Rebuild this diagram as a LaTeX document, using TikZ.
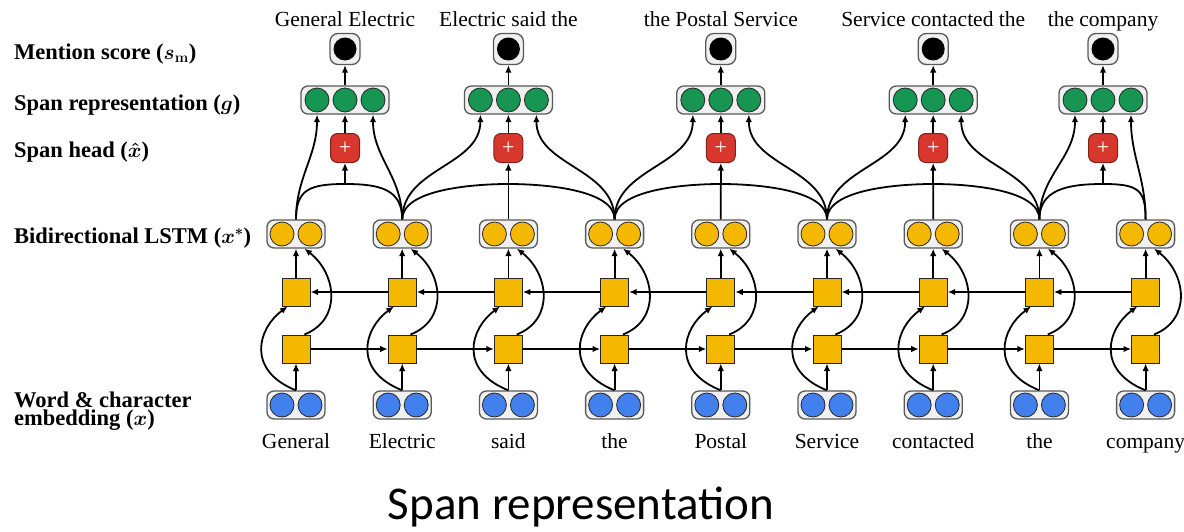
\documentclass[tikz,border=0pt]{standalone}
\usepackage{fontspec}
\setmainfont{Liberation Serif}
\newfontfamily\capfont{Carlito}
\usetikzlibrary{arrows.meta}
\definecolor{cblue}{RGB}{66,128,238}
\definecolor{cyel}{RGB}{245,184,0}
\definecolor{cgreen}{RGB}{22,150,82}
\definecolor{cred}{RGB}{215,55,45}
\begin{document}
\begin{tikzpicture}[x=1pt,y=-1pt,
  box/.style={draw=black!65, fill=gray!12, line width=1.3pt, rounded corners=7pt, minimum height=28pt, inner sep=0pt},
  box2/.style={box, minimum width=58pt},
  box3/.style={box, minimum width=88pt},
  dot/.style={circle, draw=black!85, line width=0.8pt, minimum size=24pt, inner sep=0pt},
  sq/.style={draw=black!85, fill=cyel, line width=1pt, minimum size=28pt, inner sep=0pt},
  headbox/.style={fill=cred, draw=cred!60!black, line width=1pt, rounded corners=7pt, minimum size=29pt, inner sep=0pt, text=white, font=\fontsize{22}{22}\selectfont},
  scorebox/.style={box, minimum width=30pt, minimum height=31pt, rounded corners=8pt},
  arr/.style={-{Latex[length=7.5pt,width=6.5pt]}, line width=1.8pt},
  ln/.style={line width=1.8pt},
  lbl/.style={font=\bfseries\boldmath\fontsize{22.5}{18}\selectfont, anchor=base west, align=left, inner sep=0pt},
  word/.style={font=\fontsize{21.5}{22}\selectfont, anchor=base, inner sep=0pt},
]
\useasboundingbox (0,0) rectangle (1184,531);

% left labels
\node[lbl] (l1) at (14,59) {Mention score ($s_{\mathbf{m}}$)};
\node[lbl] (l2) at (14,110) {Span representation ($g$)};
\node[lbl] (l3) at (14,157) {Span head ($\hat{x}$)};
\node[lbl] (l4) at (14,243) {Bidirectional LSTM ($x^{*}$)};
\node[lbl, anchor=north west] (l5) at (14,392) {Word \& character\\embedding ($x$)};

% token columns
\foreach \i/\w in {1/General,2/Electric,3/said,4/the,5/Postal,6/Service,7/contacted,8/the,9/company}{
  \pgfmathsetmacro\xx{296+106.2*(\i-1)}
  \node[box2] (e\i) at (\xx,405) {};
  \node[dot, fill=cblue] (e\i a) at ({\xx-14},405) {};
  \node[dot, fill=cblue] (e\i b) at ({\xx+14},405) {};
  \node[sq] (f\i) at (\xx,349) {};
  \node[sq] (b\i) at (\xx,292) {};
  \node[box2] (h\i) at (\xx,234) {};
  \node[dot, fill=cyel] (h\i a) at ({\xx-14},234) {};
  \node[dot, fill=cyel] (h\i b) at ({\xx+14},234) {};
  \node[word] (w\i) at (\xx,448) {\w};
  \draw[arr] (e\i.north) -- (f\i.south);
  \draw[arr] (b\i.north) -- (h\i.south);
  \draw[arr] (e\i.north) .. controls +(-50,-20) and +(-30,22) .. (b\i.-120);
  \draw[arr] (f\i.60) .. controls +(38,-15) and +(32,25) .. (h\i.-60);
}
\foreach \i/\j in {1/2,2/3,3/4,4/5,5/6,6/7,7/8,8/9}{
  \draw[arr] (f\i.east) -- (f\j.west);
  \draw[arr] (b\j.west) -- (b\i.east);
}

% spans
\foreach \k/\cx/\txt in {1/345/General Electric,2/508.4/Electric said the,3/720.8/the Postal Service,4/933.2/Service contacted the,5/1103/the company}{
  \node[scorebox] (m\k) at (\cx,49) {};
  \node[circle, fill=black, minimum size=23pt, inner sep=0pt] (m\k c) at (m\k) {};
  \node[box3] (g\k) at (\cx,100) {};
  \node[dot, fill=cgreen] (g\k a) at ({\cx-28},100) {};
  \node[dot, fill=cgreen] (g\k b) at (\cx,100) {};
  \node[dot, fill=cgreen] (g\k c) at ({\cx+28},100) {};
  \node[headbox] (r\k) at (\cx,148) {+};
  \coordinate (j\k) at (\cx,184);
  \node[word] (t\k) at (\cx,26) {\txt};
  \draw[arr] (g\k.north) -- (m\k.south);
  \draw[arr] (r\k.north) -- (g\k.south);
  \draw[arr] (j\k) -- (r\k.south);
}
% start / end tokens to span representation
\foreach \k/\s/\e in {1/1/2,2/2/4,3/4/6,4/6/8,5/8/9}{
  \draw[arr] (h\s.north) to[out=90,in=-90] (g\k a |- g\k.south);
  \draw[arr] (h\e.north) to[out=90,in=-90] (g\k c |- g\k.south);
}
% tokens to span head
\foreach \k/\i in {1/1,2/2,3/4,4/6,5/8}{
  \draw[ln] (h\i.north) .. controls +(0,-30) and +(-35,0) .. (j\k);
}
\foreach \k/\i in {1/2,2/4,3/6,4/8,5/9}{
  \draw[ln] (h\i.north) .. controls +(0,-30) and +(35,0) .. (j\k);
}
\foreach \k/\i in {2/3,3/5,4/7}{
  \draw[ln] (h\i.north) -- (j\k);
}

\node[font=\capfont\fontsize{47}{47}\selectfont, anchor=base, inner sep=0pt] (cap) at (581,519) {Span representation};
\end{tikzpicture}
\end{document}
